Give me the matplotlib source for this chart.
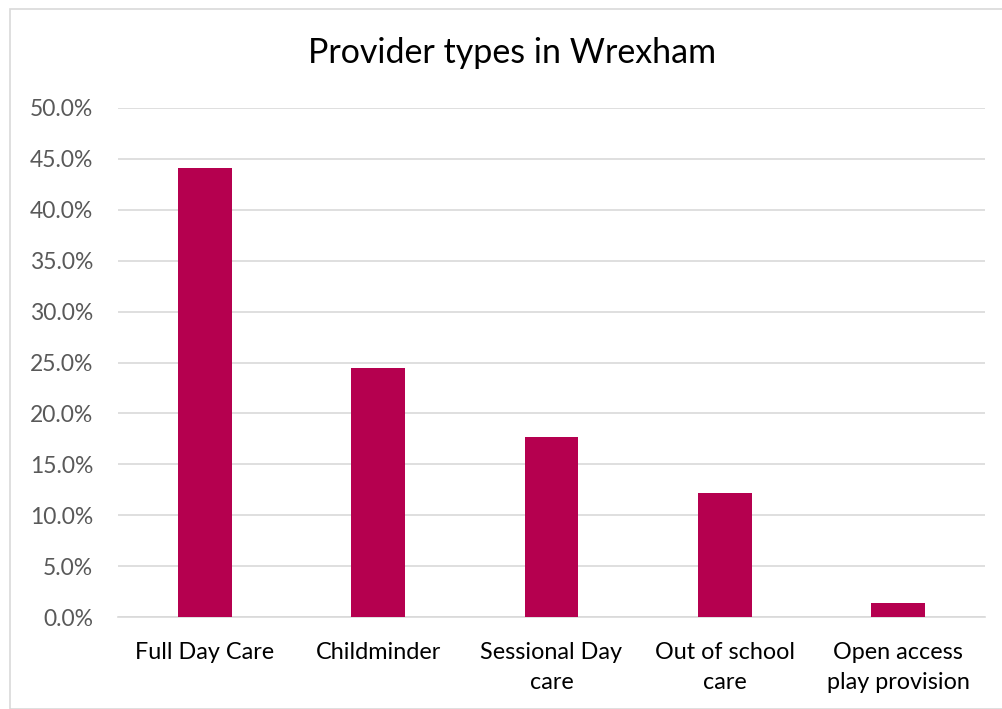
import matplotlib
matplotlib.use("Agg")
import matplotlib.pyplot as plt
from matplotlib.patches import Rectangle

categories = ["Full Day Care", "Childminder", "Sessional Day\ncare", "Out of school\ncare", "Open access\nplay provision"]
values = [44.1, 24.5, 17.7, 12.2, 1.4]
yticks = [0, 5, 10, 15, 20, 25, 30, 35, 40, 45, 50]
ytick_labels = [f"{v:.1f}%" for v in yticks]
title = "Provider types in Wrexham"

plt.rcParams['font.family'] = ['Lato', 'DejaVu Sans']

W, H = 1003, 709
fig = plt.figure(figsize=(W/100, H/100), dpi=100)
fig.patches.append(Rectangle((10/W, 0), 1.2, 1 - 9/H, transform=fig.transFigure,
                             fill=False, edgecolor="#D9D9D9", linewidth=1.2))
ax = fig.add_axes([118/W, 1 - 617/H, (985-118)/W, (617-108)/H])
x = range(len(categories))
ax.bar(x, values, width=0.31, color="#B5004F", zorder=3)
ax.set_xlim(-0.5, len(categories) - 0.5)
ax.set_ylim(0, 50)
ax.set_yticks(yticks)
ax.set_yticklabels(ytick_labels, color="#595959", fontsize=16.5)
ax.set_xticks(list(x))
ax.set_xticklabels(categories, color="#000000", fontsize=16.8, linespacing=1.55)
ax.tick_params(axis='both', length=0)
ax.tick_params(axis='y', pad=18)
ax.tick_params(axis='x', pad=18)
ax.grid(axis='y', color="#D9D9D9", linewidth=1.2, zorder=0)
for s in ["top", "right", "left"]:
    ax.spines[s].set_visible(False)
ax.spines["bottom"].set_color("#D9D9D9")
ax.spines["bottom"].set_linewidth(1.2)
fig.text(512/W, 1 - 53/H, title, ha="center", va="center", fontsize=24.5, color="#000000")
fig.savefig("out.png", dpi=100)
